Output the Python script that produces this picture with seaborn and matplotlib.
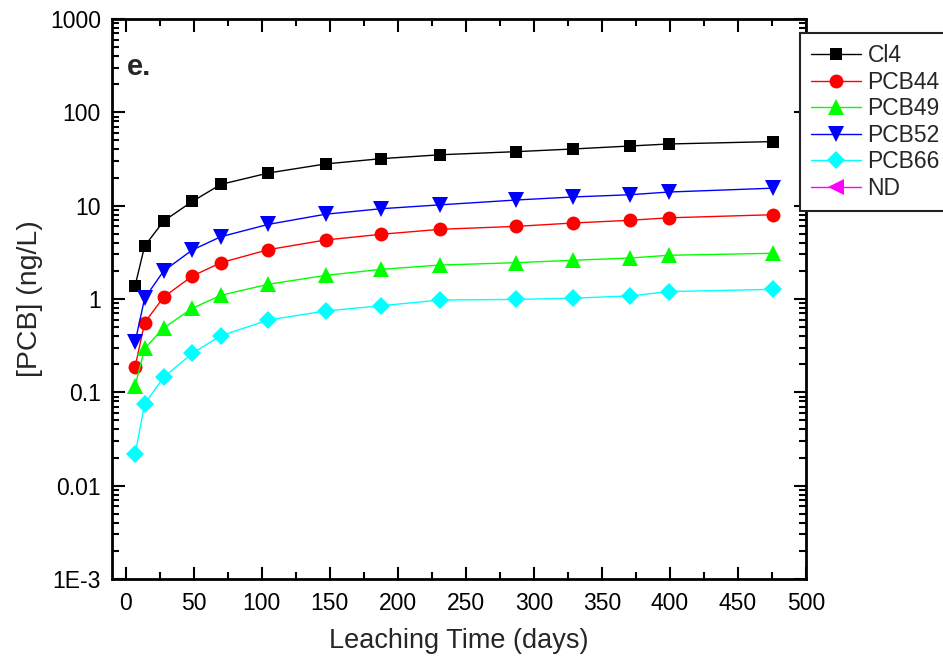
import numpy as np
import pandas as pd
import matplotlib
matplotlib.use("Agg")
import matplotlib.pyplot as plt
from matplotlib.lines import Line2D
from matplotlib.ticker import FixedLocator, LogLocator, MultipleLocator, NullFormatter
import seaborn as sns

# ---- data ----
days = [7, 14, 28, 49, 70, 105, 147, 188, 231, 287, 329, 371, 399, 476]
cl4 = [1.39, 3.70, 6.85, 11.1, 16.9, 22.4, 28.0, 31.9, 35.1, 37.9, 40.5, 43.6, 45.8, 48.6]
pcb44 = [0.188, 0.557, 1.05, 1.76, 2.45, 3.38, 4.29, 4.94, 5.58, 6.0, 6.52, 6.98, 7.41, 8.0]
pcb49 = [0.117, 0.296, 0.489, 0.795, 1.095, 1.44, 1.79, 2.08, 2.31, 2.45, 2.60, 2.75, 2.94, 3.09]
pcb52 = [0.346, 1.02, 2.0, 3.35, 4.65, 6.31, 8.1, 9.28, 10.2, 11.5, 12.4, 13.1, 14.0, 15.4]
pcb66 = [0.0218, 0.075, 0.145, 0.262, 0.404, 0.596, 0.744, 0.847, 0.975, 0.99, 1.02, 1.08, 1.20, 1.27]
nd = []  # ND series: no data points shown

series_names = ["Cl4", "PCB44", "PCB49", "PCB52", "PCB66", "ND"]
series_values = [cl4, pcb44, pcb49, pcb52, pcb66, nd]
colors = ["#000000", "#ff0000", "#00ff00", "#0000ff", "#00ffff", "#ff00ff"]
markers = ["s", "o", "^", "v", "D", "<"]
marker_sizes = [8.5, 10, 11, 11, 9, 11]

y_ticks = [1e-3, 1e-2, 1e-1, 1, 10, 100, 1000]
y_tick_labels = ["1E-3", "0.01", "0.1", "1", "10", "100", "1000"]
x_ticks = [0, 50, 100, 150, 200, 250, 300, 350, 400, 450, 500]

rows = []
for name, vals in zip(series_names, series_values):
    for d, v in zip(days, vals):
        rows.append({"days": d, "conc": v, "series": name})
df = pd.DataFrame(rows)

sns.set_style("ticks")
plt.rcParams["font.family"] = ["Liberation Sans", "DejaVu Sans"]

fig = plt.figure(figsize=(9.43, 6.62), dpi=100)
ax = fig.add_axes([112 / 943, 1 - 579 / 662, 694 / 943, 560 / 662])

for name, col, mk, ms in zip(series_names, colors, markers, marker_sizes):
    sub = df[df["series"] == name]
    if len(sub) == 0:
        continue
    sns.lineplot(data=sub, x="days", y="conc", ax=ax, color=col, marker=mk,
                 markersize=ms, markeredgewidth=0, linewidth=1.0, legend=False)

ax.set_yscale("log")
ax.set_ylim(1e-3, 1000)
ax.set_xlim(-10, 500)
ax.yaxis.set_major_locator(FixedLocator(y_ticks))
ax.set_yticklabels(y_tick_labels)
ax.yaxis.set_minor_locator(LogLocator(base=10, subs=np.arange(2, 10)))
ax.yaxis.set_minor_formatter(NullFormatter())
ax.set_xticks(x_ticks)
ax.xaxis.set_minor_locator(MultipleLocator(25))

ax.tick_params(which="both", direction="in", top=True, right=True, width=1.5,
               labelsize=16.5, colors="black")
ax.tick_params(axis="x", pad=9)
ax.tick_params(axis="y", pad=8)
ax.tick_params(which="major", length=9)
ax.tick_params(which="minor", length=5)
for sp in ax.spines.values():
    sp.set_visible(True)
    sp.set_linewidth(2)
    sp.set_color("black")

ax.set_xlabel("Leaching Time (days)", fontsize=19.5, labelpad=10)
ax.set_ylabel("[PCB] (ng/L)", fontsize=20.5, labelpad=5)

ax.text(0.021, 0.915, "e.", transform=ax.transAxes, fontsize=21,
        fontweight="bold", va="center", ha="left")

handles = [Line2D([0], [0], color=c, marker=m, markersize=ms, markeredgewidth=0,
                  linewidth=1.0)
           for c, m, ms in zip(colors, markers, marker_sizes)]
leg = fig.legend(handles, series_names, loc="upper left",
                 bbox_to_anchor=(800 / 943, 1 - 33 / 662), fontsize=16.5,
                 handlelength=2.15, handletextpad=0.3, labelspacing=0.15,
                 borderpad=0.5, borderaxespad=0, frameon=True, fancybox=False,
                 framealpha=1)
leg.get_frame().set_edgecolor("#222222")
leg.get_frame().set_linewidth(1.5)

fig.savefig("out.png", dpi=100)
